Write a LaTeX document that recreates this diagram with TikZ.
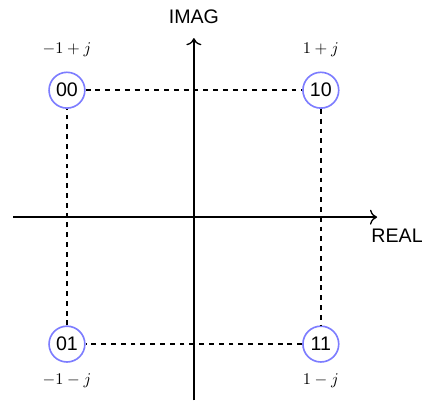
\documentclass[tikz,border=0pt]{standalone}
\usepackage{fontspec}
\setsansfont{Liberation Sans}
\usetikzlibrary{positioning,arrows.meta}
\definecolor{symblue}{RGB}{125,125,255}

\begin{document}
\begin{tikzpicture}[
    every node/.style={align=center},
    symbol/.style={circle, draw=symblue, line width=1pt, minimum size=0.77cm, inner sep=0pt, font=\sffamily\large},
    axislabel/.style={font=\sffamily\large},
    axis/.style={-{To[scale=1.3]}, thick},
    link/.style={dashed, line width=1pt}
]
\useasboundingbox (-4.17,-3.94) rectangle (4.97,4.67);

% Axes
\coordinate (xl) at (-3.89,0);
\coordinate (xr) at (3.94,0);
\coordinate (yb) at (0,-3.94);
\coordinate (yt) at (0,3.85);
\draw[axis] (xl) -- (xr);
\draw[axis] (yb) -- (yt);
\node[axislabel] (imag) at (0,4.30) {IMAG};
\node[axislabel] (real) at (4.37,-0.39) {REAL};

% Constellation points
\node[symbol] (s00) at (-2.73,2.73) {00};
\node[symbol] (s10) at (2.73,2.73) {10};
\node[symbol] (s01) at (-2.73,-2.73) {01};
\node[symbol] (s11) at (2.73,-2.73) {11};

% Point values
\node[above=0.2cm of s00] (v00) {$-1+j$};
\node[above=0.2cm of s10] (v10) {$1+j$};
\node[below=0.12cm of s01] (v01) {$-1-j$};
\node[below=0.12cm of s11] (v11) {$1-j$};

% Square
\draw[link] (s00) -- (s10);
\draw[link] (s10) -- (s11);
\draw[link] (s11) -- (s01);
\draw[link] (s01) -- (s00);

\end{tikzpicture}
\end{document}
